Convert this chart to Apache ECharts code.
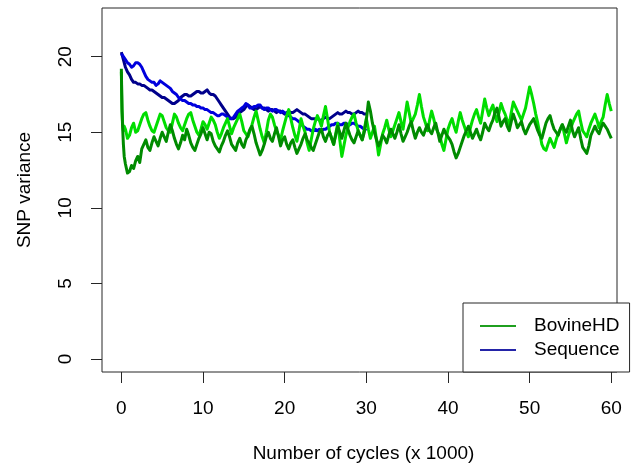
<!DOCTYPE html>
<html>
<head>
<meta charset="utf-8">
<script src="https://cdn.jsdelivr.net/npm/echarts@6/dist/echarts.min.js"></script>
<style>
html,body{margin:0;padding:0;background:#fff;}
#chart{width:636px;height:468px;}
</style>
</head>
<body>
<div id="chart"></div>
<script>
// ---- data (x in thousands of cycles, y = SNP variance) ----
const xTicks = [0, 10, 20, 30, 40, 50, 60];
const yTicks = [0, 5, 10, 15, 20];
const legendNames = ['BovineHD', 'Sequence'];

// BovineHD run 1 (dark green): initial drop, then values every 0.25 from 0.5 to 60
const bovine1Head = [[0, 19.2], [0.04, 17.8], [0.08, 16.6], [0.15, 15.4], [0.25, 14.2], [0.35, 13.4]];
const bovine1 = [
  12.9, 12.3, 12.4, 12.8, 12.6, 13.1, 13.4, 13.0, 13.9, 14.2, 14.5, 14.0, 13.8, 14.3, 14.7, 14.4, 14.1, 14.6, 15.0,
  14.7, 14.4, 15.0, 15.5, 15.1, 14.6, 14.2, 13.9, 14.3, 14.8, 14.5, 15.2, 14.8, 14.3, 14.0, 13.8, 14.2, 14.6, 14.9, 15.3,
  14.9, 14.5, 15.0, 14.9, 14.4, 14.1, 13.9, 13.7, 14.1, 14.4, 14.8, 15.1, 14.7, 14.2, 14.0, 13.8, 14.3, 14.6, 14.2, 14.0,
  14.5, 14.8, 15.2, 15.4, 14.9, 14.3, 13.9, 13.5, 13.8, 14.2, 14.7, 15.0, 14.6, 14.4, 14.9, 15.3, 14.7, 14.1, 14.5, 14.7,
  14.2, 13.9, 14.3, 14.5, 14.0, 13.6, 13.9, 14.2, 14.6, 14.9, 14.5, 14.3, 14.0, 13.8, 14.2, 14.6, 15.0, 15.2, 14.7, 14.4,
  14.8, 15.0, 14.6, 14.2, 14.8, 15.4, 15.0, 14.6, 15.1, 15.6, 15.2, 14.8, 14.5, 14.3, 14.7, 15.1, 14.8, 14.5, 15.0, 15.8,
  17.0, 16.4, 15.6, 15.0, 14.5, 14.1, 14.4, 14.8, 14.6, 14.3, 14.8, 15.2, 14.9, 14.6, 15.0, 15.5, 14.9, 14.4, 14.7, 15.0,
  15.4, 15.7, 15.1, 14.6, 15.0, 15.3, 15.0, 14.8, 15.2, 15.5, 15.1, 14.9, 15.3, 15.6, 15.0, 14.4, 14.8, 15.2, 14.9, 14.7,
  14.5, 14.2, 13.7, 13.3, 13.6, 14.0, 14.4, 14.8, 15.1, 15.4, 15.0, 14.6, 14.9, 15.2, 14.8, 14.5, 15.0, 15.6, 15.3, 15.1,
  15.5, 15.8, 16.3, 16.6, 16.0, 15.4, 15.7, 15.9, 15.4, 15.1, 15.7, 16.2, 15.8, 15.3, 15.5, 15.7, 15.2, 14.9, 15.2, 15.5,
  15.7, 15.9, 15.5, 15.1, 14.8, 14.6, 15.1, 15.6, 15.9, 16.1, 15.6, 15.2, 15.0, 14.8, 15.2, 15.5, 15.2, 15.0, 15.4, 15.8,
  15.1, 14.7, 15.0, 15.3, 14.6, 14.0, 13.8, 13.6, 14.1, 14.8, 15.1, 15.4, 15.1, 14.9, 15.3, 15.6, 15.4, 15.2, 14.9, 14.6
];

// BovineHD run 2 (light green)
const bovine2Head = [[0, 19.0], [0.04, 17.5], [0.08, 16.4], [0.15, 15.6], [0.25, 15.1], [0.35, 15.4]];
const bovine2 = [
  15.2, 14.6, 14.8, 15.3, 15.6, 15.0, 15.1, 15.5, 15.9, 16.2, 16.3, 15.8, 15.4, 15.1, 15.0, 15.4, 15.8, 16.2, 16.1,
  15.7, 15.3, 15.1, 15.0, 15.6, 16.2, 16.0, 15.6, 15.3, 15.1, 15.5, 15.9, 16.2, 16.3, 15.8, 15.4, 15.0, 14.8, 15.2, 15.7,
  15.5, 15.2, 15.6, 16.0, 15.8, 15.5, 15.0, 14.6, 14.9, 15.3, 15.6, 15.9, 15.4, 14.9, 15.3, 15.6, 15.9, 16.2, 15.7, 15.1,
  14.9, 14.7, 15.1, 15.5, 16.0, 16.4, 15.8, 15.2, 14.7, 14.3, 15.0, 15.8, 16.2, 16.0, 15.5, 15.1, 14.8, 14.5, 15.1, 15.6,
  16.1, 16.5, 15.9, 15.3, 14.8, 14.4, 15.1, 15.9, 15.4, 15.0, 14.3, 13.8, 14.5, 15.2, 15.7, 16.1, 15.8, 15.4, 16.1, 16.7,
  15.9, 15.0, 14.6, 14.2, 14.9, 15.6, 14.5, 13.4, 14.1, 14.8, 15.3, 15.7, 16.0, 16.2, 15.6, 15.1, 14.8, 14.5, 15.2, 15.9,
  15.2, 14.6, 15.0, 15.4, 14.5, 13.5, 14.2, 14.9, 15.3, 15.8, 15.2, 14.7, 15.1, 15.5, 15.9, 16.3, 15.7, 15.2, 16.1, 17.0,
  16.3, 15.6, 15.9, 16.2, 16.8, 17.5, 16.7, 16.0, 15.6, 15.1, 15.8, 16.4, 15.9, 15.3, 15.0, 14.8, 14.2, 13.8, 14.5, 15.2,
  15.6, 15.9, 15.4, 15.0, 15.7, 16.3, 15.8, 15.4, 15.0, 14.7, 15.3, 15.8, 16.2, 16.5, 16.0, 15.6, 16.4, 17.2, 16.6, 16.1,
  16.5, 16.8, 16.2, 15.7, 16.3, 16.9, 16.5, 16.2, 15.8, 15.5, 16.3, 17.0, 16.7, 16.4, 16.1, 15.8, 16.2, 16.6, 17.3, 18.0,
  17.5, 16.9, 16.2, 15.6, 14.9, 14.2, 13.9, 13.8, 14.2, 14.6, 14.3, 14.0, 14.5, 14.9, 15.2, 15.5, 14.9, 14.3, 14.8, 15.2,
  15.6, 15.9, 16.2, 16.4, 15.7, 15.1, 14.9, 14.7, 15.2, 15.6, 15.9, 16.2, 15.8, 15.3, 15.7, 16.0, 16.8, 17.5, 16.9, 16.4
];

// Sequence run 1 (blue): values every 0.25 from 0 to 30
const sequence1 = [
  20.2, 20.0, 19.8, 19.6, 19.5, 19.3, 19.4, 19.6, 19.6, 19.5, 19.3, 19.0, 18.7, 18.5, 18.4, 18.3, 18.3, 18.1, 18.2, 18.4, 18.3,
  18.2, 18.1, 18.0, 17.9, 17.7, 17.6, 17.5, 17.3, 17.2, 17.1, 17.1, 17.0, 16.9, 16.9, 16.8, 16.8, 16.7, 16.7, 16.6, 16.6,
  16.5, 16.5, 16.4, 16.3, 16.3, 16.2, 16.1, 16.1, 16.2, 16.2, 16.1, 16.0, 15.9, 15.9, 16.0, 16.2, 16.4, 16.5, 16.6, 16.7,
  16.9, 16.8, 16.6, 16.6, 16.7, 16.7, 16.8, 16.8, 16.6, 16.5, 16.6, 16.6, 16.5, 16.4, 16.5, 16.5, 16.4, 16.3, 16.4, 16.3,
  16.2, 16.1, 16.0, 15.9, 15.9, 15.8, 15.7, 15.6, 15.4, 15.3, 15.2, 15.2, 15.1, 15.1, 15.2, 15.1, 15.2, 15.1, 15.2, 15.2,
  15.3, 15.4, 15.5, 15.5, 15.6, 15.6, 15.5, 15.5, 15.6, 15.6, 15.5, 15.5, 15.6, 15.6, 15.5, 15.4, 15.4, 15.3, 15.2, 15.1
];

// Sequence run 2 (navy)
const sequence2 = [
  20.3, 19.8, 19.3, 19.0, 18.8, 18.5, 18.3, 18.3, 18.2, 18.2, 18.1, 18.1, 18.0, 17.9, 17.8, 17.8, 17.7, 17.6, 17.5, 17.4, 17.3,
  17.3, 17.2, 17.1, 17.0, 16.9, 16.9, 17.0, 17.1, 17.3, 17.4, 17.5, 17.5, 17.4, 17.4, 17.5, 17.6, 17.7, 17.7, 17.6, 17.6,
  17.7, 17.8, 17.6, 17.5, 17.5, 17.4, 17.2, 17.0, 16.8, 16.6, 16.4, 16.2, 16.0, 15.9, 15.9, 16.0, 16.2, 16.3, 16.4, 16.5,
  16.7, 16.8, 16.7, 16.6, 16.5, 16.5, 16.6, 16.7, 16.6, 16.6, 16.5, 16.4, 16.5, 16.5, 16.4, 16.3, 16.4, 16.4, 16.3, 16.2,
  16.3, 16.4, 16.3, 16.3, 16.4, 16.5, 16.4, 16.3, 16.2, 16.2, 16.1, 16.0, 15.9, 15.9, 15.9, 15.9, 15.8, 15.8, 15.9, 16.0,
  15.9, 15.9, 16.0, 16.1, 16.2, 16.3, 16.2, 16.2, 16.3, 16.4, 16.3, 16.3, 16.2, 16.2, 16.3, 16.4, 16.3, 16.3, 16.2, 16.2
];

const STEP = 0.25;
function withX(vals, start) { return vals.map((v, i) => [start + i * STEP, v]); }

const FONT = '"Liberation Sans", Arial, sans-serif';
const chart = echarts.init(document.getElementById('chart'), null, {renderer: 'canvas'});

function lineSeries(name, data, color) {
  return {
    type: 'line', name: name, data: data, showSymbol: false, symbol: 'none',
    animation: false, silent: true,
    lineStyle: {color: color, width: 3, join: 'round'},
    itemStyle: {color: color}
  };
}

chart.setOption({
  backgroundColor: '#ffffff',
  animation: false,
  textStyle: {fontFamily: FONT},
  grid: {left: 102, right: 19, top: 8, bottom: 95, show: true, borderColor: '#262626', borderWidth: 1, backgroundColor: 'transparent'},
  xAxis: {
    type: 'value', min: -2.37, max: 60.7,
    name: 'Number of cycles (x 1000)', nameLocation: 'middle', nameGap: 72,
    nameTextStyle: {fontSize: 19, color: '#000', fontFamily: FONT, padding: [0, 0, 0, 8]},
    axisLine: {show: false, onZero: false},
    axisTick: {show: true, length: 11, customValues: xTicks, lineStyle: {color: '#262626', width: 1}},
    axisLabel: {customValues: xTicks, fontSize: 19, color: '#000', margin: 27, fontFamily: FONT},
    splitLine: {show: false}
  },
  yAxis: {
    type: 'value', min: -0.86, max: 23.22,
    name: 'SNP variance', nameLocation: 'middle', nameGap: 68,
    nameTextStyle: {fontSize: 19, color: '#000', fontFamily: FONT},
    axisLine: {show: false, onZero: false},
    axisTick: {show: true, length: 11, customValues: yTicks, lineStyle: {color: '#262626', width: 1}},
    axisLabel: {customValues: yTicks, fontSize: 19, color: '#000', rotate: 90, margin: 27, fontFamily: FONT},
    splitLine: {show: false}
  },
  legend: {
    orient: 'vertical', left: 463, top: 303,
    padding: [13, 10, 12, 17],
    borderColor: '#262626', borderWidth: 1, backgroundColor: '#fff',
    icon: 'rect', itemWidth: 36, itemHeight: 2, itemGap: 4,
    textStyle: {fontSize: 19, color: '#000', fontFamily: FONT, lineHeight: 20, padding: [0, 0, 0, 13]},
    data: [
      {name: legendNames[0], itemStyle: {color: '#1f9f1f'}},
      {name: legendNames[1], itemStyle: {color: '#2424a8'}}
    ],
    selectedMode: false
  },
  series: [
    lineSeries(legendNames[1], withX(sequence2, 0), '#00008b'),
    lineSeries(legendNames[1], withX(sequence1, 0), '#0000dd'),
    lineSeries(legendNames[0], bovine2Head.concat(withX(bovine2, 0.5)), '#00dd00'),
    lineSeries(legendNames[0], bovine1Head.concat(withX(bovine1, 0.5)), '#008b00')
  ]
});
</script>
</body>
</html>
